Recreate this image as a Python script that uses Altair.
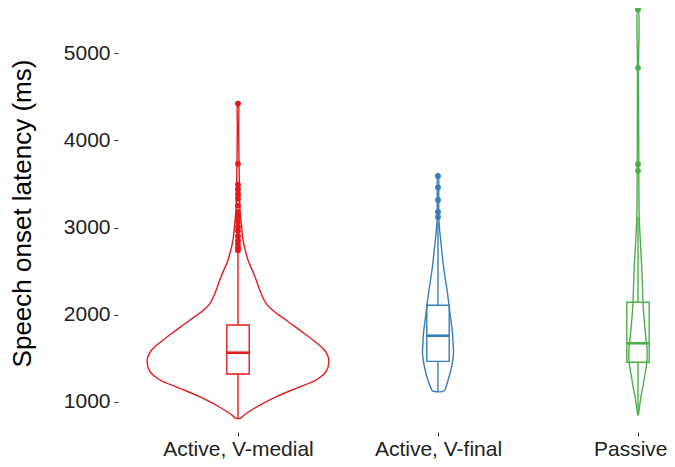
import json
import altair as alt
import pandas as pd

categories = ["Active, V-medial", "Active, V-final", "Passive"]
colors = ["#E41A1C", "#377EB8", "#4DAF4A"]

# violin outlines: latency levels (ms) and half-widths (in category units)
medial_lat = [813, 850, 928, 1042, 1157, 1252, 1347, 1482, 1596, 1711, 1826, 1940,
              2035, 2131, 2246, 2436, 2628, 2857, 3009, 3200, 3430, 3774, 4118, 4423]
medial_w = [0.012, 0.03, 0.082, 0.174, 0.29, 0.39, 0.44, 0.454, 0.432, 0.374, 0.307, 0.24,
            0.182, 0.14, 0.115, 0.085, 0.05, 0.025, 0.018, 0.01, 0.0075, 0.005, 0.0035, 0.0015]

final_lat = [1126, 1233, 1367, 1460, 1558, 1680, 1787, 2017, 2246, 2513, 2819, 3066, 3300, 3590]
final_w = [0.029, 0.048, 0.064, 0.0725, 0.0775, 0.075, 0.0725, 0.06, 0.0475, 0.03, 0.015,
           0.005, 0.0035, 0.0015]

passive_lat = [851, 950, 1061, 1150, 1252, 1350, 1443, 1530, 1620, 1700, 1800, 1902, 2000,
               2131, 2300, 2475, 2700, 2857, 3124, 3700, 4800, 5500]
passive_w = [0.0015, 0.0075, 0.015, 0.0225, 0.03, 0.0375, 0.0435, 0.046, 0.045, 0.041,
             0.0365, 0.0325, 0.029, 0.025, 0.0225, 0.02, 0.015, 0.0115, 0.006, 0.004,
             0.0025, 0.0015]

# box-plot statistics (ms)
q1 = [1321, 1466, 1455]
median = [1565, 1760, 1673]
q3 = [1882, 2108, 2143]
whisk_lo = [813, 1126, 851]
whisk_hi = [2720, 3066, 3124]

# outliers (ms)
medial_out = [4420, 3730, 3490, 3440, 3380, 3330, 3250, 3180, 3130, 3070, 3010, 2960,
              2900, 2850, 2810, 2770, 2740]
final_out = [3590, 3460, 3315, 3180, 3120]
passive_out = [5500, 4830, 3725, 3650]

y_ticks = [1000, 2000, 3000, 4000, 5000]

# ---- tables built from the arrays ----
lats = [medial_lat, final_lat, passive_lat]
ws = [medial_w, final_w, passive_w]
vrows = []
for i, (cat, lat, w) in enumerate(zip(categories, lats, ws)):
    k = 0
    for yv, wv in zip(lat, w):
        vrows.append(dict(group=cat, pos=i + 1, lat=yv, w=-wv, ord=k)); k += 1
    for yv, wv in reversed(list(zip(lat, w))):
        vrows.append(dict(group=cat, pos=i + 1, lat=yv, w=wv, ord=k)); k += 1
    vrows.append(dict(group=cat, pos=i + 1, lat=lat[0], w=-w[0], ord=k))
vdf = pd.DataFrame(vrows)

bdf = pd.DataFrame(dict(group=categories, pos=[1, 2, 3], q1=q1, med=median, q3=q3,
                        lo=whisk_lo, hi=whisk_hi))

orows = []
for i, (cat, outs) in enumerate(zip(categories, [medial_out, final_out, passive_out])):
    for v in outs:
        orows.append(dict(group=cat, pos=i + 1, lat=v))
odf = pd.DataFrame(orows)

BW = 0.056
SW = 1.4
FONT = "Liberation Sans"

xscale = alt.Scale(domain=[0.4, 3.145], nice=False, zero=False)
yscale = alt.Scale(domain=[656, 5516], nice=False, zero=False)
cscale = alt.Scale(domain=categories, range=colors)

label_expr = f"{json.dumps(categories)}[datum.value - 1]"
last = len(categories)

xaxis = alt.Axis(values=[1, 2, 3], labelExpr=label_expr, title=None, grid=False,
                 domain=False, ticks=True, tickSize=4, tickColor="#333333", tickWidth=1,
                 labelFontSize=21, labelColor="#222222", labelFont=FONT, labelPadding=2,
                 labelAlign={"condition": {"test": f"datum.value == {last}", "value": "right"},
                             "value": "center"},
                 labelOffset={"condition": {"test": f"datum.value == {last}", "value": 29},
                              "value": 0},
                 labelFlush=False, labelOverlap=False, labelBound=False)
yaxis = alt.Axis(values=y_ticks, format="d", title="Speech onset latency (ms)",
                 titleFontSize=26, titleFont=FONT, titleFontWeight="normal",
                 titleColor="#000000", titleX=-96, titleY=205, titleAngle=270,
                 titleAlign="center", titleBaseline="middle",
                 grid=False, domain=False, tickSize=4, tickColor="#333333", tickWidth=1,
                 labelFontSize=21, labelColor="#222222", labelFont=FONT, labelPadding=4,
                 labelFlush=False, labelOverlap=False)

color = alt.Color("group:N", scale=cscale, legend=None)

violin = alt.Chart(vdf).mark_line(strokeWidth=SW, clip=False,
                                  interpolate="catmull-rom").transform_calculate(
    vx="datum.pos + datum.w"
).encode(
    x=alt.X("vx:Q", scale=xscale, axis=xaxis),
    y=alt.Y("lat:Q", scale=yscale, axis=yaxis),
    order="ord:Q",
    detail="group:N",
    color=color,
)

base_box = alt.Chart(bdf).transform_calculate(
    bl=f"datum.pos - {BW}", br=f"datum.pos + {BW}"
)

box = base_box.mark_rect(fillOpacity=0, strokeWidth=SW).encode(
    x=alt.X("bl:Q", scale=xscale), x2="br:Q",
    y=alt.Y("q1:Q", scale=yscale), y2="q3:Q",
    stroke=alt.Stroke("group:N", scale=cscale, legend=None),
)
med = base_box.mark_rule(strokeWidth=2.6).encode(
    x=alt.X("bl:Q", scale=xscale), x2="br:Q",
    y=alt.Y("med:Q", scale=yscale),
    color=color,
)
wlo = base_box.mark_rule(strokeWidth=SW).encode(
    x=alt.X("pos:Q", scale=xscale),
    y=alt.Y("lo:Q", scale=yscale), y2="q1:Q",
    color=color,
)
whi = base_box.mark_rule(strokeWidth=SW).encode(
    x=alt.X("pos:Q", scale=xscale),
    y=alt.Y("q3:Q", scale=yscale), y2="hi:Q",
    color=color,
)
pts = alt.Chart(odf).mark_circle(size=34, opacity=1, clip=False).encode(
    x=alt.X("pos:Q", scale=xscale),
    y=alt.Y("lat:Q", scale=yscale),
    color=color,
)

chart = alt.layer(violin, box, wlo, whi, med, pts).properties(
    width=549, height=424,
    autosize=alt.AutoSizeParams(type="none"),
    padding={"left": 110, "top": 0, "right": 0, "bottom": 27},
    background="white",
).configure(font=FONT).configure_view(stroke=None, strokeWidth=0)

chart.save("out.html", embed_options={"renderer": "svg", "actions": False})
